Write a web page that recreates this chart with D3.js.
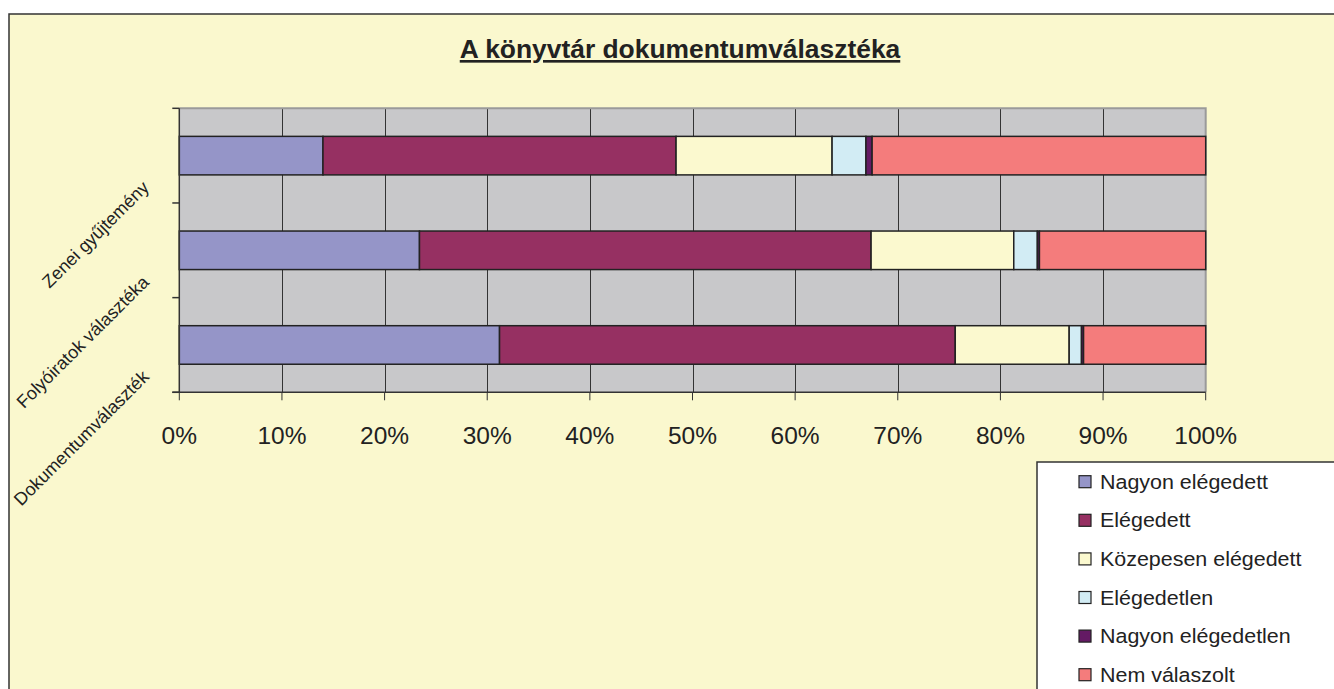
<!DOCTYPE html>
<html>
  <head>
    <meta charset="utf-8">
    <title>A könyvtár dokumentumválasztéka</title>
    <script src="https://d3js.org/d3.v7.min.js"></script>
    <style>
      body { margin: 0; background: #fff; }
      text { font-family: "Liberation Sans", Arial, sans-serif; fill: #222; }
    </style>
  </head>
  <body>
    <svg id="chart" width="1334" height="689"></svg>
    <script>
      // data (percent of answers), bottom category first
      const categories = ["Dokumentumválaszték", "Folyóiratok választéka", "Zenei gyűjtemény"];
      const seriesNames = ["Nagyon elégedett", "Elégedett", "Közepesen elégedett", "Elégedetlen", "Nagyon elégedetlen", "Nem válaszolt"];
      const nagyonElegedett = [31.2, 23.4, 14.0];
      const elegedett = [44.4, 44.0, 34.4];
      const kozepesen = [11.1, 13.9, 15.2];
      const elegedetlen = [1.2, 2.3, 3.3];
      const nagyonElegedetlen = [0.2, 0.2, 0.6];
      const nemValaszolt = [11.9, 16.2, 32.5];
      const xTicks = [0, 10, 20, 30, 40, 50, 60, 70, 80, 90, 100];
      const colors = ["#9595c8", "#963062", "#fbf9cf", "#d2ecf4", "#641a64", "#f47c7c"];

      const values = [nagyonElegedett, elegedett, kozepesen, elegedetlen, nagyonElegedetlen, nemValaszolt];
      const rows = categories.map(function(c, i) {
        let r = { cat: c };
        seriesNames.forEach(function(s, j) { r[s] = values[j][i]; });
        return r;
      });

      const svg = d3.select("#chart");
      const plot = { left: 179.3, right: 1205.7, top: 108.3, bottom: 392.3 };

      // chart area
      svg.append("rect")
        .attr("x", 9).attr("y", 14)
        .attr("width", 1400).attr("height", 800)
        .attr("fill", "#faf8ce")
        .attr("stroke", "#333").attr("stroke-width", 1.5);

      // title
      svg.append("text")
        .attr("x", 680).attr("y", 58)
        .attr("text-anchor", "middle")
        .attr("font-size", 26.4)
        .attr("font-weight", "bold")
        .style("text-decoration", "underline")
        .text("A könyvtár dokumentumválasztéka");

      const x = d3.scaleLinear().domain([0, 100]).range([plot.left, plot.right]);
      const y = d3.scaleBand()
        .domain(categories)
        .range([plot.bottom, plot.top])
        .paddingInner(0.593)
        .paddingOuter(0.593 / 2);
      const step = (plot.bottom - plot.top) / categories.length;

      // plot background
      svg.append("rect")
        .attr("x", plot.left).attr("y", plot.top)
        .attr("width", plot.right - plot.left).attr("height", plot.bottom - plot.top)
        .attr("fill", "#c8c8ca");

      // gridlines
      svg.append("g").selectAll("line")
          .data(xTicks.filter(function(d) { return d > 0 && d < 100; }))
        .enter().append("line")
          .attr("x1", function(d) { return Math.round(x(d)) + 0.5; })
          .attr("x2", function(d) { return Math.round(x(d)) + 0.5; })
          .attr("y1", plot.top).attr("y2", plot.bottom)
          .attr("stroke", "#333").attr("stroke-width", 1);

      // plot border (top, right)
      svg.append("path")
        .attr("d", "M" + plot.left + "," + plot.top + "H" + plot.right + "V" + plot.bottom)
        .attr("fill", "none")
        .attr("stroke", "#9a9a9a").attr("stroke-width", 2);

      // bars
      const stack = d3.stack().keys(seriesNames);
      const layers = svg.append("g").selectAll("g")
          .data(stack(rows))
        .enter().append("g")
          .attr("fill", function(d, i) { return colors[i]; });
      layers.selectAll("rect")
          .data(function(d) { return d; })
        .enter().append("rect")
          .attr("x", function(d) { return x(d[0]); })
          .attr("y", function(d) { return y(d.data.cat); })
          .attr("width", function(d) { return x(d[1]) - x(d[0]); })
          .attr("height", y.bandwidth())
          .attr("stroke", "#222").attr("stroke-width", 1.5);

      // axes
      const axisG = svg.append("g").attr("stroke", "#333").attr("stroke-width", 1.5);
      axisG.append("line")
        .attr("x1", plot.left).attr("x2", plot.left)
        .attr("y1", plot.top).attr("y2", plot.bottom);
      axisG.append("line")
        .attr("x1", plot.left - 7).attr("x2", plot.right)
        .attr("y1", plot.bottom).attr("y2", plot.bottom);
      axisG.selectAll(".xtick")
          .data(xTicks)
        .enter().append("line")
          .attr("x1", function(d) { return x(d); })
          .attr("x2", function(d) { return x(d); })
          .attr("y1", plot.bottom).attr("y2", plot.bottom + 8)
          .attr("stroke-width", 1);
      const catTicks = [plot.top].concat(categories.map(function(c) { return y(c) + y.bandwidth() / 2 + step / 2; }));
      axisG.selectAll(".ytick")
          .data(catTicks)
        .enter().append("line")
          .attr("x1", plot.left - 7).attr("x2", plot.left)
          .attr("y1", function(d) { return d; })
          .attr("y2", function(d) { return d; });

      // x tick labels
      svg.append("g").selectAll("text")
          .data(xTicks)
        .enter().append("text")
          .attr("x", function(d) { return x(d); })
          .attr("y", 444)
          .attr("text-anchor", "middle")
          .attr("font-size", 24.5)
          .text(function(d) { return d + "%"; });

      // category labels, rotated
      svg.append("g").selectAll("text")
          .data(categories)
        .enter().append("text")
          .attr("transform", function(d) {
            return "translate(150," + (y(d) + y.bandwidth() / 2 + 33) + ") rotate(-45)";
          })
          .attr("text-anchor", "end")
          .attr("font-size", 18)
          .text(function(d) { return d; });

      // legend
      svg.append("rect")
        .attr("x", 1037).attr("y", 462)
        .attr("width", 400).attr("height", 300)
        .attr("fill", "#fff")
        .attr("stroke", "#333").attr("stroke-width", 1.5);
      const legend = svg.append("g").selectAll("g")
          .data(seriesNames)
        .enter().append("g")
          .attr("transform", function(d, i) { return "translate(1079," + (481.7 + i * 38.6) + ")"; });
      legend.append("rect")
        .attr("x", 0).attr("y", -6)
        .attr("width", 12).attr("height", 12)
        .attr("fill", function(d, i) { return colors[i]; })
        .attr("stroke", "#222").attr("stroke-width", 1.2);
      legend.append("text")
        .attr("transform", "translate(21,7) scale(1.1,1)")
        .attr("font-size", 19.5)
        .text(function(d) { return d; });
    </script>
  </body>
</html>
